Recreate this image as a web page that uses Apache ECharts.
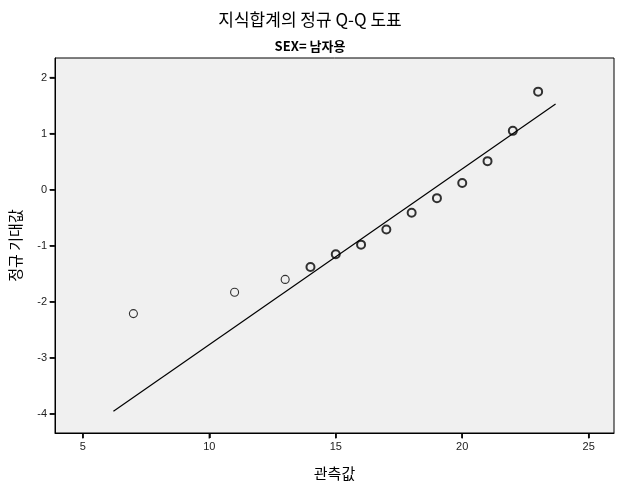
<!DOCTYPE html>
<html><head><meta charset="utf-8">
<script src="https://cdn.jsdelivr.net/npm/echarts@6/dist/echarts.min.js"></script>
<style>html,body{margin:0;padding:0;background:#fff}#c{width:620px;height:490px}</style>
</head><body><div id="c"></div>
<script>
// Data
const observed = [7, 11, 13, 14, 15, 16, 17, 18, 19, 20, 21, 22, 23];
const expectedNormal = [-2.21, -1.83, -1.60, -1.38, -1.15, -0.98, -0.71, -0.41, -0.15, 0.12, 0.51, 1.05, 1.75];
const lineX = [6.21, 23.69];
const lineY = [-3.95, 1.53];
const xTicks = [5, 10, 15, 20, 25];
const yTicks = [-4, -3, -2, -1, 0, 1, 2];
const titleText = '지식합계의 정규 Q-Q 도표';
const subtitleText = 'SEX= 남자용';
const xName = '관측값';
const yName = '정규 기대값';

const X_MIN = 3.9, X_MAX = 26, Y_MIN = -4.34, Y_MAX = 2.35;
const kr = '"Noto Sans CJK KR", sans-serif';
const tickFont = '"Liberation Sans", Arial, sans-serif';
const chart = echarts.init(document.getElementById('c'), null, {renderer: 'canvas'});
const pts = observed.map((x, i) => ({
  value: [x, expectedNormal[i]],
  itemStyle: {borderWidth: i < 3 ? 1.1 : 2}
}));
chart.setOption({
  animation: false,
  backgroundColor: '#ffffff',
  title: [
    {text: titleText, left: 'center', top: 6, textStyle: {fontFamily: kr, fontSize: 17, fontWeight: 'normal', color: '#000'}},
    {text: subtitleText, left: 'center', top: 35, textStyle: {fontFamily: kr, fontSize: 13, fontWeight: 'bold', color: '#000'}}
  ],
  grid: {left: 54, top: 58, right: 6, bottom: 57, show: true, backgroundColor: '#f0f0f0', borderColor: '#000', borderWidth: 1},
  xAxis: {
    type: 'value', min: X_MIN, max: X_MAX,
    name: xName, nameLocation: 'middle', nameGap: 33,
    nameTextStyle: {fontFamily: kr, fontSize: 15, color: '#000'},
    axisLine: {show: true, onZero: false, lineStyle: {color: '#000', width: 1}},
    splitLine: {show: false},
    axisTick: {show: true, length: 5, customValues: xTicks, lineStyle: {color: '#000', width: 1.5}},
    axisLabel: {customValues: xTicks, fontFamily: tickFont, fontSize: 11, color: '#222', margin: 8}
  },
  yAxis: {
    type: 'value', min: Y_MIN, max: Y_MAX,
    name: yName, nameLocation: 'middle', nameGap: 32, nameRotate: 90,
    nameTextStyle: {fontFamily: kr, fontSize: 15, color: '#000'},
    axisLine: {show: true, onZero: false, lineStyle: {color: '#000', width: 1}},
    splitLine: {show: false},
    axisTick: {show: true, length: 5, customValues: yTicks, lineStyle: {color: '#000', width: 1.5}},
    axisLabel: {customValues: yTicks, fontFamily: tickFont, fontSize: 11, color: '#222', margin: 8}
  },
  series: [
    {
      type: 'scatter', silent: true, clip: false, z: 5,
      data: xTicks.map(v => [v, Y_MIN]),
      symbol: 'rect', symbolSize: [1.5, 5], symbolOffset: [0, 3],
      itemStyle: {color: '#000'}
    },
    {
      type: 'scatter', silent: true, clip: false, z: 5,
      data: yTicks.map(v => [X_MIN, v]),
      symbol: 'rect', symbolSize: [5, 1.5], symbolOffset: [-3, 0],
      itemStyle: {color: '#000'}
    },
    {
      type: 'line',
      data: lineX.map((x, i) => [x, lineY[i]]),
      showSymbol: false, symbol: 'none',
      lineStyle: {color: '#000', width: 1.2},
      silent: true, z: 2
    },
    {
      type: 'scatter',
      data: pts,
      symbol: 'circle', symbolSize: 8,
      itemStyle: {color: 'rgba(0,0,0,0)', borderColor: '#000'},
      z: 3
    }
  ]
});
</script></body></html>
